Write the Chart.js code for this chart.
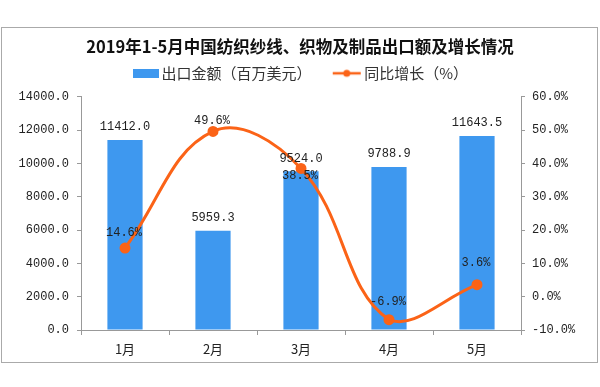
<!DOCTYPE html>
<html>
<head>
<meta charset="utf-8">
<script src="https://cdn.jsdelivr.net/npm/chart.js@4"></script>
<style>
  html, body { margin: 0; padding: 0; background: #fff; }
  #wrap { width: 600px; height: 387px; }
</style>
</head>
<body>
<div id="wrap"><canvas id="c" width="600" height="387"></canvas></div>
<script>
// ─── Data ───────────────────────────────────────────
const months = ['1月', '2月', '3月', '4月', '5月'];
const exportValues = [11412.0, 5959.3, 9524.0, 9788.9, 11643.5];   // 百万美元
const growthRates = [14.6, 49.6, 38.5, -6.9, 3.6];                 // %

const BLUE = '#3E98EF';
const ORANGE = '#FB6317';
const NUM_FONT = '"Liberation Mono", "DejaVu Sans Mono", monospace';
const CJK_FONT = '"Noto Sans CJK SC", "Noto Sans", sans-serif';

// ─── Legend swatches ────────────────────────────────
function swatch(w, h, draw) {
  const cv = document.createElement('canvas');
  cv.width = w; cv.height = h;
  draw(cv.getContext('2d'));
  return cv;
}
// images are centred on the legend box, so pad them to sit next to the text
const barSwatch = swatch(36, 9, g => { g.fillStyle = BLUE; g.fillRect(8, 0, 26, 9); });
const lineSwatch = swatch(32, 10, g => {
  g.strokeStyle = ORANGE; g.lineWidth = 2.5;
  g.beginPath(); g.moveTo(3, 5); g.lineTo(31, 5); g.stroke();
  g.fillStyle = ORANGE; g.beginPath(); g.arc(17, 5, 3.5, 0, Math.PI * 2); g.fill();
});

// ─── Plugins ────────────────────────────────────────
const frame = {
  id: 'frame',
  beforeDraw(chart) {
    const g = chart.ctx;
    g.save();
    g.strokeStyle = '#aaaaaa';
    g.lineWidth = 1;
    g.strokeRect(1.5, 27.5, 596, 335);
    g.restore();
  }
};

const valueLabels = {
  id: 'valueLabels',
  afterDatasetsDraw(chart) {
    const g = chart.ctx;
    g.save();
    g.font = '12px ' + NUM_FONT;
    g.fillStyle = '#222';
    g.textAlign = 'center';
    g.textBaseline = 'middle';
    chart.getDatasetMeta(0).data.forEach((bar, i) => {
      g.fillText(exportValues[i].toFixed(1), bar.x, bar.y - 13);
    });
    const lineDy = [-15, -11, 7, -18, -22];
    chart.getDatasetMeta(1).data.forEach((pt, i) => {
      g.fillText(growthRates[i].toFixed(1) + '%', pt.x - 1, pt.y + lineDy[i]);
    });
    g.restore();
  }
};

// ─── Chart ──────────────────────────────────────────
new Chart(document.getElementById('c'), {
  data: {
    labels: months,
    datasets: [
      {
        type: 'bar',
        label: '出口金额（百万美元）',
        data: exportValues,
        yAxisID: 'y',
        backgroundColor: BLUE,
        barPercentage: 0.4,
        categoryPercentage: 1,
        order: 1
      },
      {
        type: 'line',
        label: '同比增长（%）',
        data: growthRates,
        yAxisID: 'y1',
        borderColor: ORANGE,
        backgroundColor: ORANGE,
        borderWidth: 3,
        pointRadius: 4,
        pointStyle: 'circle',
        tension: 0.4,
        order: 0
      }
    ]
  },
  options: {
    responsive: false,
    animation: false,
    events: [],
    layout: { padding: { left: 0, right: 0, top: 0, bottom: 0 } },
    plugins: {
      title: {
        display: true,
        text: '2019年1-5月中国纺织纱线、织物及制品出口额及增长情况',
        color: '#111',
        font: { family: CJK_FONT, size: 16.5, weight: 'bold' },
        padding: { top: 37, bottom: 0 }
      },
      // empty spacer between legend and plot area
      subtitle: {
        display: true,
        text: ' ',
        weight: 500,
        font: { size: 1, lineHeight: 1 },
        padding: { top: 5, bottom: 0 }
      },
      legend: {
        display: true,
        labels: {
          color: '#333',
          font: { family: CJK_FONT, size: 15 },
          usePointStyle: true,
          pointStyleWidth: 22,
          padding: 9,
          generateLabels(chart) {
            return [
              { text: '出口金额（百万美元）　  ', pointStyle: barSwatch, datasetIndex: 0, fontColor: '#333', lineWidth: 0 },
              { text: '同比增长（%）', pointStyle: lineSwatch, datasetIndex: 1, fontColor: '#333', lineWidth: 0 }
            ];
          }
        }
      },
      tooltip: { enabled: false }
    },
    scales: {
      x: {
        offset: true,
        grid: { drawOnChartArea: false, tickLength: 5, color: '#999', offset: true },
        border: { color: '#999' },
        ticks: { color: '#222', font: { family: CJK_FONT, size: 13 }, padding: 6 },
        afterFit(scale) { scale.height = 57; }
      },
      y: {
        position: 'left',
        min: 0,
        max: 14000,
        ticks: {
          stepSize: 2000,
          color: '#222',
          font: { family: NUM_FONT, size: 12 },
          padding: 8,
          callback: v => Number(v).toFixed(1)
        },
        grid: { drawOnChartArea: false, tickLength: 4, color: '#999' },
        border: { color: '#999' },
        afterFit(scale) { scale.width = 81; }
      },
      y1: {
        position: 'right',
        min: -10,
        max: 60,
        ticks: {
          stepSize: 10,
          color: '#222',
          font: { family: NUM_FONT, size: 12 },
          padding: 7,
          callback: v => Number(v).toFixed(1) + '%'
        },
        grid: { drawOnChartArea: false, tickLength: 4, color: '#999' },
        border: { color: '#999' },
        afterFit(scale) { scale.width = 79; }
      }
    }
  },
  plugins: [frame, valueLabels]
});
</script>
</body>
</html>
